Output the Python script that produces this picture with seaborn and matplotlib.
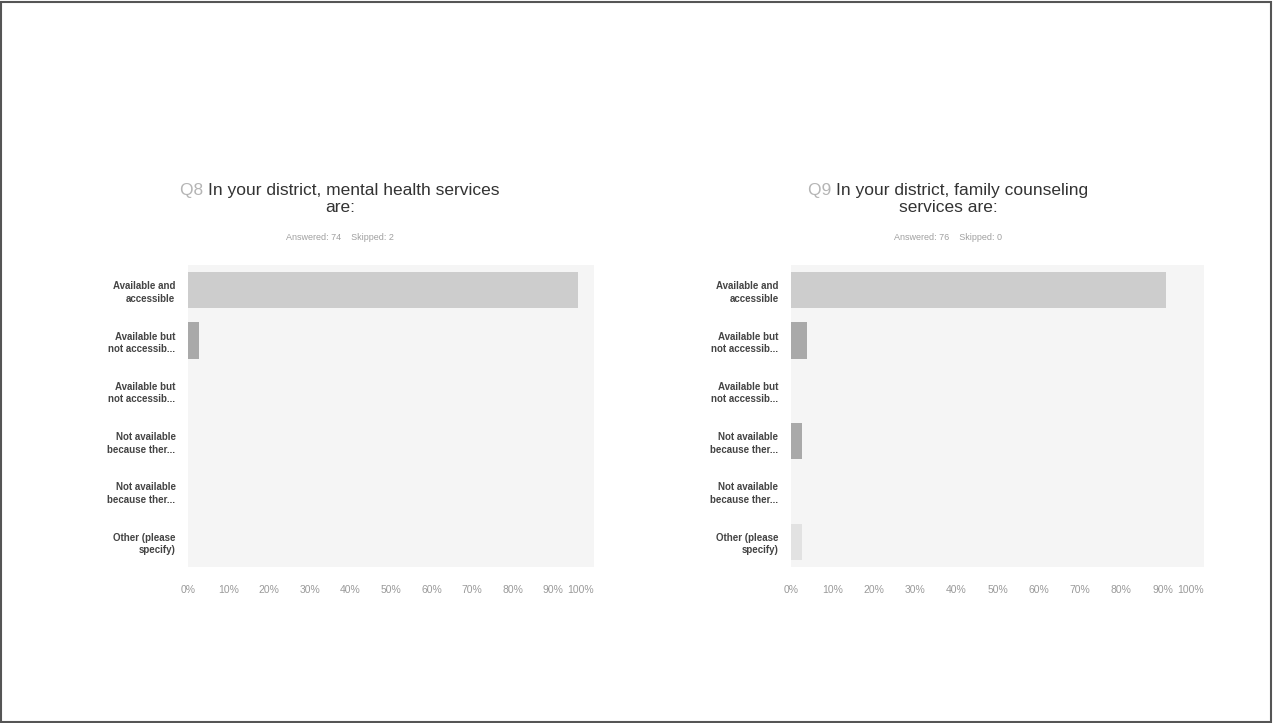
import matplotlib
matplotlib.use("Agg")
import matplotlib.pyplot as plt
import seaborn as sns
import pandas as pd
from matplotlib.patches import Rectangle

sns.set_style("white")
plt.rcParams['font.family'] = ['Liberation Sans', 'DejaVu Sans']

categories = ["Available and\naccessible", "Available but\nnot accessib...", "Available but\nnot accessib...",
              "Not available\nbecause ther...", "Not available\nbecause ther...", "Other (please\nspecify)"]
q8_values = [96.0, 2.7, 0.0, 0.0, 0.0, 0.0]
q9_values = [90.8, 3.9, 0.0, 2.6, 0.0, 2.6]
q8_title = "In your district, mental health services\nare:"
q9_title = "In your district, family counseling\nservices are:"
q8_sub = "Answered: 74    Skipped: 2"
q9_sub = "Answered: 76    Skipped: 0"
x_ticks = [0, 10, 20, 30, 40, 50, 60, 70, 80, 90, 100]
x_tick_labels = [f"{t}%" for t in x_ticks]
bar_colors = ["#cdcdcd", "#a9a9a9", "#a9a9a9", "#a9a9a9", "#a9a9a9", "#e2e2e2"]

W, H = 1273, 723
fig = plt.figure(figsize=(W / 100, H / 100), dpi=100)
renderer = fig.canvas.get_renderer()

def add_axes(x0, y0, x1, y1):
    return fig.add_axes([x0 / W, 1 - y1 / H, (x1 - x0) / W, (y1 - y0) / H])

panels = [
    (add_axes(188, 265, 594, 567), q8_values, "Q8", q8_title, q8_sub, 340),
    (add_axes(791, 265, 1204, 567), q9_values, "Q9", q9_title, q9_sub, 948),
]

title_fs = 12.5
for ax, vals, qn, title, sub, cx in panels:
    ids = [f"c{i}" for i in range(len(categories))]
    df = pd.DataFrame({"id": ids, "value": vals})
    sns.barplot(data=df, x="value", y="id", hue="id", palette=bar_colors,
                orient="h", width=0.72, legend=False, ax=ax, saturation=1, linewidth=0)
    ax.set_facecolor("#f5f5f5")
    ax.set_xlim(0, 100)
    ax.set_ylim(len(categories) - 0.5, -0.5)
    for s in ax.spines.values():
        s.set_visible(False)
    ax.set_xticks(x_ticks)
    ax.set_xticklabels(x_tick_labels, fontsize=7.5, color="#9a9a9a")
    ax.get_xticklabels()[-1].set_horizontalalignment("right")
    ax.set_yticks(range(len(categories)))
    ax.set_yticklabels(categories, fontsize=7, fontweight="bold", color="#444444", linespacing=1.3)
    ax.tick_params(axis="y", length=0, pad=9)
    ax.tick_params(axis="x", length=0, pad=13)
    ax.set_xlabel("")
    ax.set_ylabel("")
    # title: light "Qn" followed by dark text
    t1, t2 = title.split("\n")
    full = fig.text(cx / W, 1 - 190 / H, f"{qn} {t1}", ha="center", va="center",
                    fontsize=title_fs, color="#333333")
    bb = full.get_window_extent(renderer)
    full.remove()
    q = fig.text(bb.x0 / W, 1 - 190 / H, f"{qn} ", ha="left", va="center",
                 fontsize=title_fs, color="#b5b5b5")
    qb = q.get_window_extent(renderer)
    fig.text(qb.x1 / W, 1 - 190 / H, t1, ha="left", va="center",
             fontsize=title_fs, color="#333333")
    fig.text(cx / W, 1 - 207 / H, t2, ha="center", va="center", fontsize=title_fs, color="#333333")
    fig.text(cx / W, 1 - 238 / H, sub, ha="center", va="center", fontsize=6.5, color="#a0a0a0")

fig.patches.append(Rectangle((1 / W, 1 / H), 1 - 3 / W, 1 - 3 / H, transform=fig.transFigure,
                             fill=False, edgecolor="#555555", linewidth=1.5))

fig.savefig("out.png", dpi=100, facecolor="white")
